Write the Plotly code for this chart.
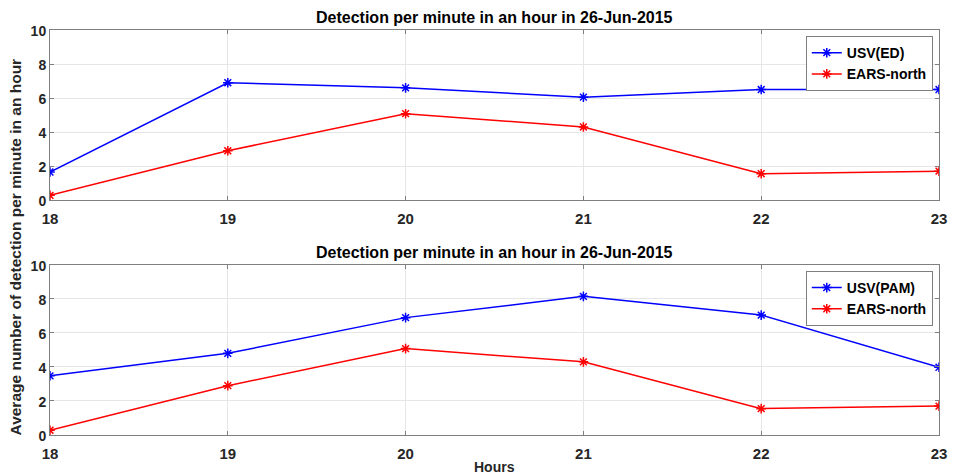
import plotly.graph_objects as go

hours = [18, 19, 20, 21, 22, 23]
usv_ed = [1.65, 6.9, 6.6, 6.05, 6.5, 6.5]
ears_north = [0.28, 2.9, 5.08, 4.3, 1.55, 1.7]
usv_pam = [3.48, 4.8, 6.9, 8.15, 7.05, 3.98]
title_text = "Detection per minute in an hour in 26-Jun-2015"
y_ticks = [0, 2, 4, 6, 8, 10]

BLUE = "#0000ff"
RED = "#ff0000"
FONT = "Liberation Sans"
TXT = "#262626"

def line_trace(y, name, color, xa, ya, legend):
    return go.Scatter(
        x=hours, y=y, name=name, mode="lines+markers",
        line=dict(color=color, width=1.5),
        marker=dict(symbol="asterisk-open", size=8, color=color,
                    line=dict(color=color, width=1.5)),
        xaxis=xa, yaxis=ya, legend=legend,
    )

fig = go.Figure()
fig.add_trace(line_trace(usv_ed, "USV(ED)", BLUE, "x", "y", "legend"))
fig.add_trace(line_trace(ears_north, "EARS-north", RED, "x", "y", "legend"))
fig.add_trace(line_trace(usv_pam, "USV(PAM)", BLUE, "x2", "y2", "legend2"))
fig.add_trace(line_trace(ears_north, "EARS-north", RED, "x2", "y2", "legend2"))

axis_common = dict(
    showline=True, linecolor="#7f7f7f", linewidth=1, mirror="ticks",
    ticks="inside", ticklen=4, tickcolor="#7f7f7f",
    showgrid=True, gridcolor="#e6e6e6", gridwidth=1, zeroline=False,
)
x_font = dict(family=FONT, size=15, color=TXT, weight="bold")
y_font = dict(family=FONT, size=14, color=TXT, weight="bold")

top_dom = [0.58, 1.0]
bot_dom = [0.0, 0.42]

legend_common = dict(
    xanchor="right", yanchor="top",
    bgcolor="white", bordercolor="#7f7f7f", borderwidth=1,
    font=dict(family=FONT, size=14, color="#000000", weight="bold"),
    tracegroupgap=0, itemwidth=30,
)

fig.update_layout(
    width=957, height=475,
    margin=dict(l=50, r=10, t=30, b=40),
    plot_bgcolor="white", paper_bgcolor="white",
    font=dict(family=FONT, color=TXT),
    xaxis=dict(domain=[0, 1], anchor="y", range=[18, 23], tickvals=hours,
               tickfont=x_font, ticklabelstandoff=5, **axis_common),
    yaxis=dict(domain=top_dom, anchor="x", range=[0, 10], tickvals=y_ticks,
               tickfont=y_font, ticklabelshift=1, **axis_common),
    xaxis2=dict(domain=[0, 1], anchor="y2", range=[18, 23], tickvals=hours,
                tickfont=x_font, ticklabelstandoff=5, **axis_common),
    yaxis2=dict(domain=bot_dom, anchor="x2", range=[0, 10], tickvals=y_ticks,
                tickfont=y_font, ticklabelshift=1, **axis_common),
    legend=dict(x=0.993, y=0.985, **legend_common),
    legend2=dict(x=0.993, y=0.405, **legend_common),
    showlegend=True,
)

annots = [
    dict(text=title_text, x=0.5, y=top_dom[1], xref="paper", yref="paper",
         xanchor="center", yanchor="bottom", yshift=2, showarrow=False,
         font=dict(family=FONT, size=16, color="#000000", weight="bold")),
    dict(text=title_text, x=0.5, y=bot_dom[1], xref="paper", yref="paper",
         xanchor="center", yanchor="bottom", yshift=2, showarrow=False,
         font=dict(family=FONT, size=16, color="#000000", weight="bold")),
    dict(text="Average number of detection per minute in an hour", x=0, y=0.463,
         xref="paper", yref="paper", xanchor="center", yanchor="middle",
         xshift=-35, textangle=-90, showarrow=False,
         font=dict(family=FONT, size=15.5, color=TXT, weight="bold")),
    dict(text="Hours", x=0.5, y=0, xref="paper", yref="paper",
         xanchor="center", yanchor="top", yshift=-22, showarrow=False,
         font=dict(family=FONT, size=14, color=TXT, weight="bold")),
]
fig.update_layout(annotations=annots)

fig.write_html("out.html")
